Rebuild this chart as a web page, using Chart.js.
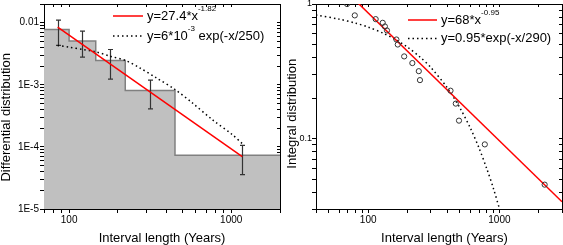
<!DOCTYPE html>
<html>
<head>
<meta charset="utf-8">
<script src="https://cdn.jsdelivr.net/npm/chart.js@4.4.1/dist/chart.umd.min.js"></script>
<style>
  html, body { margin: 0; padding: 0; background: #fff; }
  #wrap { position: relative; width: 563px; height: 245px; }
  canvas { position: absolute; top: 0; }
  #diff { left: 0; }
  #integ { left: 281px; }
</style>
</head>
<body>
<div id="wrap">
  <canvas id="diff" width="281" height="245"></canvas>
  <canvas id="integ" width="282" height="245"></canvas>
</div>
<script>
// --- left panel: differential distribution (histogram + error bars + fits)
const binEdges  = [70, 100, 146, 222, 450, 2000];
const binValues = [0.0078, 0.00505, 0.00247, 0.00081, 0.0000735, 0.0000735];

const errX    = [85, 120, 180, 317, 1170];
const errLow  = [0.0043, 0.0028, 0.00123, 0.00041, 0.0000357];
const errHigh = [0.011, 0.0073, 0.0037, 0.00119, 0.000106];

const diffPowX = [85, 1170];
const diffPowY = [0.0085, 0.00007];
const diffExpX = [85, 100, 122, 146, 178, 222, 272, 344, 450, 576, 764, 1015, 1170];
const diffExpY = [0.0043, 0.00404, 0.0037, 0.0034, 0.0029, 0.00247, 0.00188, 0.0013, 0.00084, 0.00051, 0.000275, 0.000158, 0.000113];

// --- right panel: integral distribution (points + fits)
const intX = [69, 79, 114, 129, 134, 139, 164, 168, 188, 217, 243, 248, 424, 465, 492, 774, 2213];
const intY = [1.0, 0.823, 0.772, 0.725, 0.681, 0.636, 0.545, 0.50, 0.408, 0.364, 0.317, 0.272, 0.227, 0.182, 0.136, 0.0906, 0.0455];

const intPowX = [80, 3000];
const intPowY = [1.06, 0.034];
const intExpX = [40, 60, 80, 100, 130, 160, 200, 250, 300, 400, 500, 600, 700, 800, 900, 1000];
const intExpY = [0.828, 0.772, 0.721, 0.673, 0.607, 0.547, 0.477, 0.401, 0.338, 0.239, 0.169, 0.120, 0.085, 0.060, 0.0427, 0.0302];

// --- tick labels
const xTickValues = [100, 1000];
const xTickLabels = ['100', '1000'];
const diffYTickValues = [1e-5, 1e-4, 1e-3, 0.01];
const diffYTickLabels = ['1E-5', '1E-4', '1E-3', '0.01'];
const intYTickValues = [0.1, 1];
const intYTickLabels = ['0.1', '1'];

const FONT = 'Arial, "Liberation Sans", Helvetica, sans-serif';
Chart.defaults.font.family = FONT;
Chart.defaults.color = '#000';

const pts = (xs, ys) => xs.map((x, i) => ({ x: x, y: ys[i] }));

// every 1..9 x 10^n value inside the scale range (minor + major tick marks)
function logTicks(scale) {
    const out = [];
    const lo = Math.floor(Math.log10(scale.min));
    const hi = Math.ceil(Math.log10(scale.max));
    for (let d = lo; d <= hi; d++) {
        for (let m = 1; m <= 9; m++) {
            const v = m * Math.pow(10, d);
            if (v >= scale.min * 0.999 && v <= scale.max * 1.001) out.push({ value: v });
        }
    }
    return out;
}

function labelFor(values, labels) {
    return v => {
        const i = values.findIndex(t => Math.abs(v - t) / t < 1e-6);
        return i < 0 ? '' : labels[i];
    };
}

// main axis: outward ticks, labels, title
function mainAxis(min, max, values, labels, title, pad, size, fit) {
    return {
        type: 'logarithmic',
        min: min,
        max: max,
        afterBuildTicks: s => { s.ticks = logTicks(s); },
        afterFit: s => {
            fit(s);
            s.paddingTop = 0; s.paddingBottom = 0;
            s.paddingLeft = 0; s.paddingRight = 0;
        },
        ticks: {
            callback: labelFor(values, labels),
            autoSkip: false,
            maxRotation: 0,
            padding: pad,
            font: { size: size },
            color: '#000'
        },
        grid: { display: true, drawOnChartArea: false, drawTicks: true, tickLength: 4, color: '#000', lineWidth: 1 },
        border: { display: true, color: '#000', width: 1 },
        title: {
            display: true,
            text: title,
            color: '#000',
            padding: 0,
            font: { size: 13, lineHeight: 1 }
        }
    };
}

// mirror axis: frame side with inward ticks, no labels
function mirrorAxis(pos, min, max, axis) {
    return {
        type: 'logarithmic',
        position: pos,
        axis: axis,
        min: min,
        max: max,
        afterBuildTicks: s => { s.ticks = logTicks(s); },
        afterFit: s => {
            if (axis === 'x') s.height = 0; else s.width = 0;
            s.paddingTop = 0; s.paddingBottom = 0;
            s.paddingLeft = 0; s.paddingRight = 0;
        },
        ticks: { display: false, autoSkip: false },
        grid: { display: true, drawOnChartArea: false, drawTicks: true, tickLength: -3, color: '#000', lineWidth: 1 },
        border: { display: true, color: '#000', width: 1 },
        title: { display: false }
    };
}

// error bars drawn right after the histogram (dataset 0)
function drawErrorBars(chart) {
    const { ctx, scales: { x, y } } = chart;
    ctx.save();
    ctx.strokeStyle = '#333';
    ctx.lineWidth = 1.2;
    ctx.beginPath();
    errX.forEach((v, i) => {
        const px = Math.round(x.getPixelForValue(v)) + 0.5;
        const top = y.getPixelForValue(errHigh[i]);
        const bot = y.getPixelForValue(errLow[i]);
        ctx.moveTo(px, top); ctx.lineTo(px, bot);
        ctx.moveTo(px - 2.5, top); ctx.lineTo(px + 2.5, top);
        ctx.moveTo(px - 2.5, bot); ctx.lineTo(px + 2.5, bot);
    });
    ctx.stroke();
    ctx.restore();
}

// legend with superscripts
function drawLegend(chart, entries) {
    const ctx = chart.ctx;
    ctx.save();
    entries.forEach(e => {
        ctx.beginPath();
        ctx.strokeStyle = e.color;
        ctx.lineWidth = e.width;
        ctx.setLineDash(e.dash);
        ctx.moveTo(e.x0, e.y);
        ctx.lineTo(e.x1, e.y);
        ctx.stroke();
        ctx.setLineDash([]);
        let x = e.x1 + 4;
        ctx.fillStyle = '#000';
        ctx.textBaseline = 'middle';
        ctx.textAlign = 'left';
        e.parts.forEach(p => {
            ctx.font = (p.sup ? '8px ' : '13px ') + FONT;
            ctx.fillText(p.text, x, p.sup ? e.y - 7 : e.y);
            x += ctx.measureText(p.text).width;
        });
    });
    ctx.restore();
}

function decorations(name, entries, withErrors) {
    return {
        id: 'deco' + name,
        afterDatasetDraw(chart, args) {
            if (withErrors && args.index === 0) drawErrorBars(chart);
        },
        afterDatasetsDraw(chart) {
            drawLegend(chart, entries);
        }
    };
}

const RED = '#ff0000';
const DOTS = [1.5, 3];

new Chart(document.getElementById('diff'), {
    type: 'line',
    data: {
        datasets: [
            {
                data: pts(binEdges, binValues),
                stepped: true,
                fill: 'start',
                backgroundColor: '#c0c0c0',
                borderColor: '#808080',
                borderWidth: 1.5,
                pointRadius: 0,
                order: 3
            },
            {
                data: pts(diffExpX, diffExpY),
                borderColor: '#000',
                borderWidth: 1.5,
                borderDash: DOTS,
                pointRadius: 0,
                tension: 0.3,
                order: 2
            },
            {
                data: pts(diffPowX, diffPowY),
                borderColor: RED,
                borderWidth: 1.5,
                pointRadius: 0,
                order: 1
            }
        ]
    },
    options: {
        animation: false,
        responsive: false,
        layout: { autoPadding: false, padding: { left: 0, right: 1, top: 4, bottom: 0 } },
        plugins: { legend: { display: false }, tooltip: { enabled: false } },
        scales: {
            x: mainAxis(70, 2000, xTickValues, xTickLabels, 'Interval length (Years)', 1, 10, s => { s.height = 36; }),
            y: mainAxis(1e-5, 0.02, diffYTickValues, diffYTickLabels, 'Differential distribution      ', 1, 10, s => { s.width = 44; }),
            x2: mirrorAxis('top', 70, 2000, 'x'),
            y2: mirrorAxis('right', 1e-5, 0.02, 'y')
        }
    },
    plugins: [decorations('diff', [
        { x0: 113, x1: 143, y: 16, color: RED, width: 1.5, dash: [], parts: [{ text: 'y=27.4*x' }, { text: '-1.82', sup: true }] },
        { x0: 113, x1: 143, y: 36, color: '#000', width: 1.5, dash: DOTS, parts: [{ text: 'y=6*10' }, { text: '-3', sup: true }, { text: ' exp(-x/250)' }] }
    ], true)]
});

new Chart(document.getElementById('integ'), {
    type: 'line',
    data: {
        datasets: [
            {
                data: pts(intX, intY),
                showLine: false,
                pointRadius: 2.6,
                pointBorderWidth: 1,
                pointBorderColor: '#333',
                pointBackgroundColor: 'rgba(0,0,0,0)',
                order: 1
            },
            {
                data: pts(intExpX, intExpY),
                borderColor: '#000',
                borderWidth: 1.5,
                borderDash: DOTS,
                pointRadius: 0,
                tension: 0.3,
                order: 3
            },
            {
                data: pts(intPowX, intPowY),
                borderColor: RED,
                borderWidth: 1.5,
                pointRadius: 0,
                order: 2
            }
        ]
    },
    options: {
        animation: false,
        responsive: false,
        layout: { autoPadding: false, padding: { left: 5, right: 1, top: 4, bottom: 0 } },
        plugins: { legend: { display: false }, tooltip: { enabled: false } },
        scales: {
            x: mainAxis(40, 3000, xTickValues, xTickLabels, '   Interval length (Years)', 1, 10, s => { s.height = 36; }),
            y: mainAxis(0.03, 1, intYTickValues, intYTickLabels, 'Integral distribution    ', 0, 9, s => { s.width = 30; }),
            x2: mirrorAxis('top', 40, 3000, 'x'),
            y2: mirrorAxis('right', 0.03, 1, 'y')
        }
    },
    plugins: [decorations('integ', [
        { x0: 127, x1: 156, y: 20, color: RED, width: 1.5, dash: [], parts: [{ text: 'y=68*x' }, { text: '-0.95', sup: true }] },
        { x0: 127, x1: 156, y: 38.5, color: '#000', width: 1.5, dash: DOTS, parts: [{ text: 'y=0.95*exp(-x/290)' }] }
    ], false)]
});
</script>
</body>
</html>
